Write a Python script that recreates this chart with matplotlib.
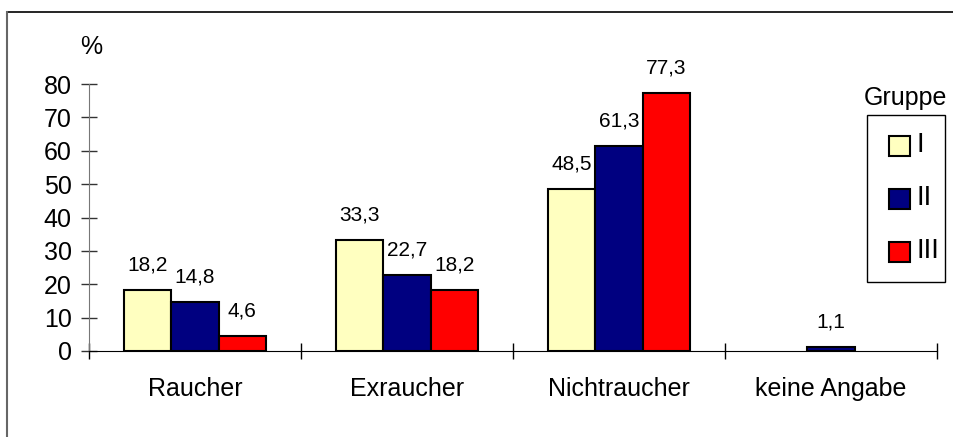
import numpy as np
import matplotlib.pyplot as plt
from matplotlib.lines import Line2D
from matplotlib.patches import Rectangle

plt.rcParams["font.family"] = ["Liberation Sans", "DejaVu Sans"]

categories = ["Raucher", "Exraucher", "Nichtraucher", "keine Angabe"]
groups = ["I", "II", "III"]
gruppe_1 = [18.2, 33.3, 48.5, 0.0]
gruppe_2 = [14.8, 22.7, 61.3, 1.1]
gruppe_3 = [4.6, 18.2, 77.3, 0.0]
colors = ["#FFFFC0", "#000080", "#FF0000"]

W, H = 954, 437


def fmt(v):
    return f"{v:.1f}".replace(".", ",")


def fx(px):
    return px / W


def fy(py):
    return 1 - py / H


fig = plt.figure(figsize=(W / 100, H / 100), dpi=100)
ax = fig.add_axes([fx(89), fy(351), (937 - 89) / W, (351 - 84) / H])

x = np.arange(len(categories))
width = 0.222
series = [gruppe_1, gruppe_2, gruppe_3]
for i, (vals, col) in enumerate(zip(series, colors)):
    pos = x + (i - 1) * width
    for p, v in zip(pos, vals):
        if v <= 0:
            continue
        ax.bar(p, v, width, color=col, edgecolor="black", linewidth=1.5, zorder=3)
        ax.annotate(fmt(v), (p, v), xytext=(0, 14), textcoords="offset points",
                    ha="center", va="baseline", fontsize=15,
                    annotation_clip=False)

ax.set_xlim(-0.5, 3.5)
ax.set_ylim(0, 80)
ax.set_yticks(np.arange(0, 81, 10))
ax.tick_params(axis="y", direction="inout", length=11, width=1, labelsize=18,
               pad=7, color="#333333")
ax.set_xticks(x)
ax.set_xticklabels(categories, fontsize=18)
ax.tick_params(axis="x", length=0, pad=19)
ax.set_xticks(np.arange(-0.5, 3.6, 1), minor=True)
ax.tick_params(axis="x", which="minor", direction="inout", length=11, width=1)

for side in ["top", "right"]:
    ax.spines[side].set_visible(False)
ax.spines["left"].set_color("#777777")
ax.spines["bottom"].set_color("black")

fig.text(fx(91), fy(47), "%", fontsize=18, ha="center", va="center")

# outer frame of the chart area
fig.add_artist(Line2D([fx(7.5), 1], [fy(11.5), fy(11.5)], color="black", lw=1.2))
fig.add_artist(Line2D([fx(7.5), fx(7.5)], [0, fy(11.5)], color="#666666", lw=1.5))

# legend drawn by hand: title above a framed box
fig.text(fx(905), fy(98), "Gruppe", fontsize=18, ha="center", va="center")
fig.add_artist(Rectangle((fx(867), fy(282)), (945 - 867) / W, (282 - 115) / H,
                         transform=fig.transFigure, facecolor="white",
                         edgecolor="black", lw=1))
for k, (lab, col) in enumerate(zip(groups, colors)):
    yc = 145.5 + k * 53
    fig.add_artist(Rectangle((fx(889), fy(yc + 10)), 21 / W, 20 / H,
                             transform=fig.transFigure, facecolor=col,
                             edgecolor="black", lw=1.5))
    fig.text(fx(917), fy(yc), lab, fontsize=20, ha="left", va="center")

fig.savefig("out.png", dpi=100)
